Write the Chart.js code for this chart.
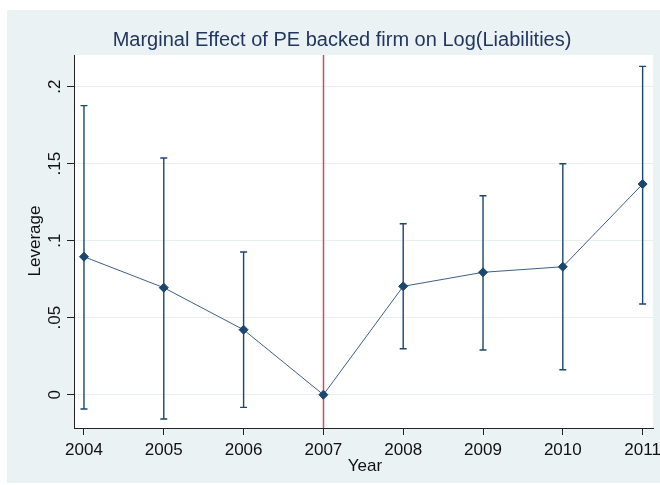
<!DOCTYPE html>
<html>
<head>
<meta charset="utf-8">
<script src="https://cdn.jsdelivr.net/npm/chart.js@4"></script>
<style>
    html, body { margin: 0; padding: 0; background: #fff; }
    #wrap { position: relative; width: 660px; height: 485px; }
    #region { position: absolute; left: 7px; top: 10px; width: 653px; height: 473px; background: #eaf2f3; }
    #chart { position: absolute; left: 0; top: 0; }
</style>
</head>
<body>
<div id="wrap">
    <div id="region"></div>
    <canvas id="chart" width="660" height="485"></canvas>
</div>
<script>
// values
const years = [2004, 2005, 2006, 2007, 2008, 2009, 2010, 2011];
const effect = [0.0896, 0.0695, 0.0422, 0, 0.0704, 0.0795, 0.0831, 0.1368];
const ciLow = [-0.0093, -0.0158, -0.0082, 0, 0.0299, 0.0290, 0.0162, 0.0589];
const ciHigh = [0.1877, 0.1537, 0.0927, 0, 0.1110, 0.1292, 0.1500, 0.2132];
const yTicks = [0, 0.05, 0.1, 0.15, 0.2];
const yTickLabels = ["0", ".05", ".1", ".15", ".2"];
const eventYear = 2007;

const titleText = "Marginal Effect of PE backed firm on Log(Liabilities)";
const xTitle = "Year";
const yTitle = "Leverage";

const navy = "#1a476f";
const font = "'Liberation Sans', Arial, sans-serif";

const stataPlugin = {
    id: "stata",
    beforeDraw(chart) {
        const { ctx, chartArea: a } = chart;
        ctx.save();
        ctx.fillStyle = "#fff";
        ctx.fillRect(a.left, a.top, a.right - a.left, a.bottom - a.top);
        ctx.restore();
    },
    beforeDatasetsDraw(chart) {
        const { ctx, chartArea: a } = chart;
        const x = chart.scales.x, y = chart.scales.y;
        ctx.save();
        // reference line at 2007
        ctx.strokeStyle = "#cf4a68";
        ctx.lineWidth = 1.5;
        const ex = Math.round(x.getPixelForValue(eventYear)) + 0.5;
        ctx.beginPath();
        ctx.moveTo(ex, a.top);
        ctx.lineTo(ex, a.bottom);
        ctx.stroke();

        // confidence intervals
        ctx.strokeStyle = navy;
        ctx.lineWidth = 1.4;
        years.forEach((yr, i) => {
            if (ciLow[i] === ciHigh[i]) return;
            const px = x.getPixelForValue(yr);
            const lo = y.getPixelForValue(ciLow[i]);
            const hi = y.getPixelForValue(ciHigh[i]);
            ctx.beginPath();
            ctx.moveTo(px, lo); ctx.lineTo(px, hi);
            ctx.moveTo(px - 3.5, lo); ctx.lineTo(px + 3.5, lo);
            ctx.moveTo(px - 3.5, hi); ctx.lineTo(px + 3.5, hi);
            ctx.stroke();
        });
        ctx.restore();
    },
    afterDraw(chart) {
        const { ctx } = chart;
        const y = chart.scales.y;
        ctx.save();
        // title
        ctx.fillStyle = "#23365f";
        ctx.font = "20px " + font;
        ctx.textAlign = "center";
        ctx.textBaseline = "alphabetic";
        ctx.fillText(titleText, 342, 46);

        // x axis title
        ctx.fillStyle = "#111";
        ctx.font = "17px " + font;
        ctx.fillText(xTitle, 365, 471);

        // rotated y tick labels
        yTicks.forEach((v, i) => {
            ctx.save();
            ctx.translate(60, y.getPixelForValue(v));
            ctx.rotate(-Math.PI / 2);
            ctx.fillText(yTickLabels[i], 0, 0);
            ctx.restore();
        });

        // y axis title
        ctx.translate(40, 241);
        ctx.rotate(-Math.PI / 2);
        ctx.fillText(yTitle, 0, 0);
        ctx.restore();
    }
};

new Chart(document.getElementById("chart"), {
    type: "scatter",
    data: {
        datasets: [{
            data: years.map((yr, i) => ({ x: yr, y: effect[i] })),
            showLine: true,
            borderColor: "#3d5f82",
            borderWidth: 1,
            pointStyle: "rectRot",
            pointRadius: 4.5,
            pointBackgroundColor: navy,
            pointBorderColor: navy,
            pointBorderWidth: 1
        }]
    },
    options: {
        responsive: false,
        animation: false,
        events: [],
        layout: { padding: { left: 0, top: 55, right: 7, bottom: 0 } },
        plugins: { legend: { display: false }, tooltip: { enabled: false }, title: { display: false } },
        scales: {
            x: {
                type: "linear",
                min: 2003.875,
                max: 2011.13,
                afterBuildTicks: s => { s.ticks = years.map(v => ({ value: v })); },
                afterFit: s => { s.height = 57; s.paddingLeft = 0; s.paddingRight = 0; },
                border: { color: "#222", width: 1 },
                grid: { drawOnChartArea: false, drawTicks: true, tickLength: 7, tickColor: "#222" },
                ticks: {
                    autoSkip: false,
                    maxRotation: 0,
                    padding: 5,
                    color: "#111",
                    font: { family: font, size: 17 },
                    callback: v => String(v)
                }
            },
            y: {
                type: "linear",
                min: -0.0216,
                max: 0.2206,
                afterBuildTicks: s => { s.ticks = yTicks.map(v => ({ value: v })); },
                afterFit: s => { s.width = 74; s.paddingTop = 0; s.paddingBottom = 0; },
                border: { color: "#222", width: 1 },
                grid: { color: "#e7eff0", lineWidth: 1, drawTicks: true, tickLength: 7, tickColor: "#222" },
                ticks: { display: false }
            }
        }
    },
    plugins: [stataPlugin]
});
</script>
</body>
</html>
